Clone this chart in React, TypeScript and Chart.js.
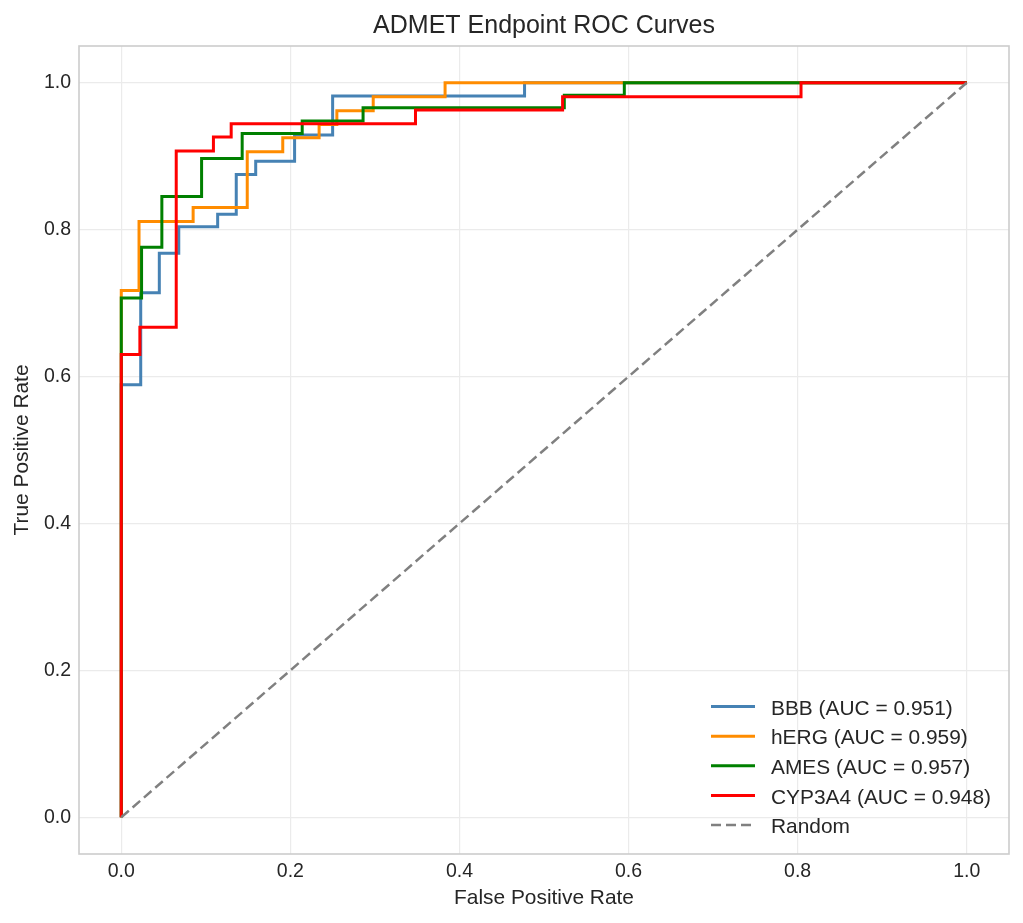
import React, { useEffect, useRef } from 'react';
import { Chart, registerables } from 'chart.js';

Chart.register(...registerables);

const chartTitle = 'ADMET Endpoint ROC Curves';
const xAxisTitle = 'False Positive Rate';
const yAxisTitle = 'True Positive Rate';

const seriesLabels = ['BBB (AUC = 0.951)', 'hERG (AUC = 0.959)', 'AMES (AUC = 0.957)', 'CYP3A4 (AUC = 0.948)'];
const seriesColors = ['#4682B4', '#FF8C00', '#008000', '#FF0000'];
const randomLabel = 'Random';
const randomColor = '#808080';

const bbbFpr = [0, 0, 0.023, 0.023, 0.045, 0.045, 0.068, 0.068, 0.114, 0.114, 0.136, 0.136, 0.159, 0.159, 0.205, 0.205, 0.25, 0.25, 0.477, 0.477, 1.0];
const bbbTpr = [0, 0.589, 0.589, 0.714, 0.714, 0.768, 0.768, 0.804, 0.804, 0.821, 0.821, 0.875, 0.875, 0.893, 0.893, 0.929, 0.929, 0.982, 0.982, 1.0, 1.0];

const hergFpr = [0, 0, 0.021, 0.021, 0.085, 0.085, 0.149, 0.149, 0.191, 0.191, 0.234, 0.234, 0.255, 0.255, 0.298, 0.298, 0.383, 0.383, 1.0];
const hergTpr = [0, 0.717, 0.717, 0.811, 0.811, 0.83, 0.83, 0.906, 0.906, 0.925, 0.925, 0.943, 0.943, 0.962, 0.962, 0.981, 0.981, 1.0, 1.0];

const amesFpr = [0, 0, 0.024, 0.024, 0.048, 0.048, 0.095, 0.095, 0.143, 0.143, 0.214, 0.214, 0.286, 0.286, 0.524, 0.524, 0.595, 0.595, 1.0];
const amesTpr = [0, 0.707, 0.707, 0.776, 0.776, 0.845, 0.845, 0.897, 0.897, 0.931, 0.931, 0.948, 0.948, 0.966, 0.966, 0.983, 0.983, 1.0, 1.0];

const cypFpr = [0, 0, 0.022, 0.022, 0.065, 0.065, 0.109, 0.109, 0.13, 0.13, 0.348, 0.348, 0.522, 0.522, 0.804, 0.804, 1.0];
const cypTpr = [0, 0.63, 0.63, 0.667, 0.667, 0.907, 0.907, 0.926, 0.926, 0.944, 0.944, 0.963, 0.963, 0.981, 0.981, 1.0, 1.0];

const randomFpr = [0, 1];
const randomTpr = [0, 1];

const tickValues = [0, 0.2, 0.4, 0.6, 0.8, 1.0];

const FONT = "'Liberation Sans', Arial, sans-serif";
const TEXT = '#262626';

const toPoints = (xs: number[], ys: number[]) => xs.map((x, i) => ({ x, y: ys[i] }));

const titleCenterPlugin = {
  id: 'titleCenter',
  afterLayout(chart: any) {
    const tb = chart.titleBlock;
    if (tb) {
      tb.left = chart.chartArea.left;
      tb.right = chart.chartArea.right;
    }
  },
};

const framePlugin = {
  id: 'frame',
  afterDatasetsDraw(chart: any) {
    const { ctx, chartArea } = chart;
    ctx.save();
    ctx.strokeStyle = '#cccccc';
    ctx.lineWidth = 1.6;
    ctx.strokeRect(chartArea.left, chartArea.top, chartArea.right - chartArea.left, chartArea.bottom - chartArea.top);
    ctx.restore();
  },
};

const legendPlugin = {
  id: 'innerLegend',
  afterDraw(chart: any) {
    const { ctx, chartArea } = chart;
    const ds = chart.data.datasets;
    const n = ds.length;
    const rowH = 29.6;
    const lastY = chartArea.bottom - 29;
    const x0 = chartArea.right - 298;
    const x1 = chartArea.right - 254;
    const tx = chartArea.right - 238;
    ctx.save();
    ctx.font = `20.9px ${FONT}`;
    ctx.textBaseline = 'middle';
    ctx.textAlign = 'left';
    for (let i = 0; i < n; i++) {
      const d = ds[i];
      const y = lastY - (n - 1 - i) * rowH;
      ctx.strokeStyle = d.borderColor;
      ctx.lineWidth = d.borderWidth;
      ctx.setLineDash(d.borderDash || []);
      ctx.lineCap = 'butt';
      ctx.beginPath();
      ctx.moveTo(x0, y);
      ctx.lineTo(x1, y);
      ctx.stroke();
      ctx.setLineDash([]);
      ctx.fillStyle = TEXT;
      ctx.fillText(d.label, tx, y + 2.5);
    }
    ctx.restore();
  },
};

export default function App() {
  const ref = useRef<HTMLCanvasElement>(null);
  useEffect(() => {
    document.body.style.margin = '0';
    const series = [
      toPoints(bbbFpr, bbbTpr),
      toPoints(hergFpr, hergTpr),
      toPoints(amesFpr, amesTpr),
      toPoints(cypFpr, cypTpr),
    ];
    const datasets: any[] = series.map((pts, i) => ({
      label: seriesLabels[i],
      data: pts,
      borderColor: seriesColors[i],
      backgroundColor: seriesColors[i],
      borderWidth: 3,
      pointRadius: 0,
      tension: 0,
      fill: false,
      borderJoinStyle: 'miter',
      order: 4 - i,
    }));
    datasets.push({
      label: randomLabel,
      data: toPoints(randomFpr, randomTpr),
      borderColor: randomColor,
      backgroundColor: randomColor,
      borderWidth: 2.5,
      borderDash: [10, 5],
      pointRadius: 0,
      fill: false,
      order: 0,
    });
    const tickFont = { family: FONT, size: 19.5 };
    const chart = new Chart(ref.current!, {
      type: 'line',
      data: { datasets },
      options: {
        animation: false,
        responsive: false,
        devicePixelRatio: 1,
        events: [],
        layout: { padding: { left: 0, right: 14, top: 0, bottom: 0 } },
        plugins: {
          legend: { display: false },
          tooltip: { enabled: false },
          title: {
            display: true,
            text: chartTitle,
            color: TEXT,
            font: { family: FONT, size: 25, weight: 'normal', lineHeight: 1.2 },
            padding: { top: 11, bottom: 5 },
          },
        },
        scales: {
          x: {
            type: 'linear',
            min: -0.05,
            max: 1.05,
            afterBuildTicks: (s: any) => { s.ticks = tickValues.map((v) => ({ value: v })); },
            afterFit: (s: any) => { s.height = 69; },
            ticks: { color: TEXT, font: tickFont, padding: 6, callback: (v: any) => Number(v).toFixed(1), maxRotation: 0 },
            grid: { color: '#ebebeb', lineWidth: 1.2, drawTicks: false },
            border: { display: false },
            title: { display: true, text: xAxisTitle, color: TEXT, font: { family: FONT, size: 20.9, lineHeight: 1.2 }, padding: { top: 0, bottom: 12.5 } },
          },
          y: {
            type: 'linear',
            min: -0.05,
            max: 1.05,
            afterBuildTicks: (s: any) => { s.ticks = tickValues.map((v) => ({ value: v })); },
            afterFit: (s: any) => { s.width = 79; },
            ticks: { color: TEXT, font: tickFont, padding: 8, callback: (v: any) => Number(v).toFixed(1) },
            grid: { color: '#ebebeb', lineWidth: 1.2, drawTicks: false },
            border: { display: false },
            title: { display: true, text: yAxisTitle, color: TEXT, font: { family: FONT, size: 20.9, lineHeight: 1.2 }, padding: { top: 10, bottom: 0 } },
          },
        },
      },
      plugins: [titleCenterPlugin, framePlugin, legendPlugin],
    } as any);
    return () => chart.destroy();
  }, []);
  return (
    <div style={{ width: 1023, height: 923 }}>
      <canvas ref={ref} width={1023} height={923} style={{ display: 'block' }} />
    </div>
  );
}
